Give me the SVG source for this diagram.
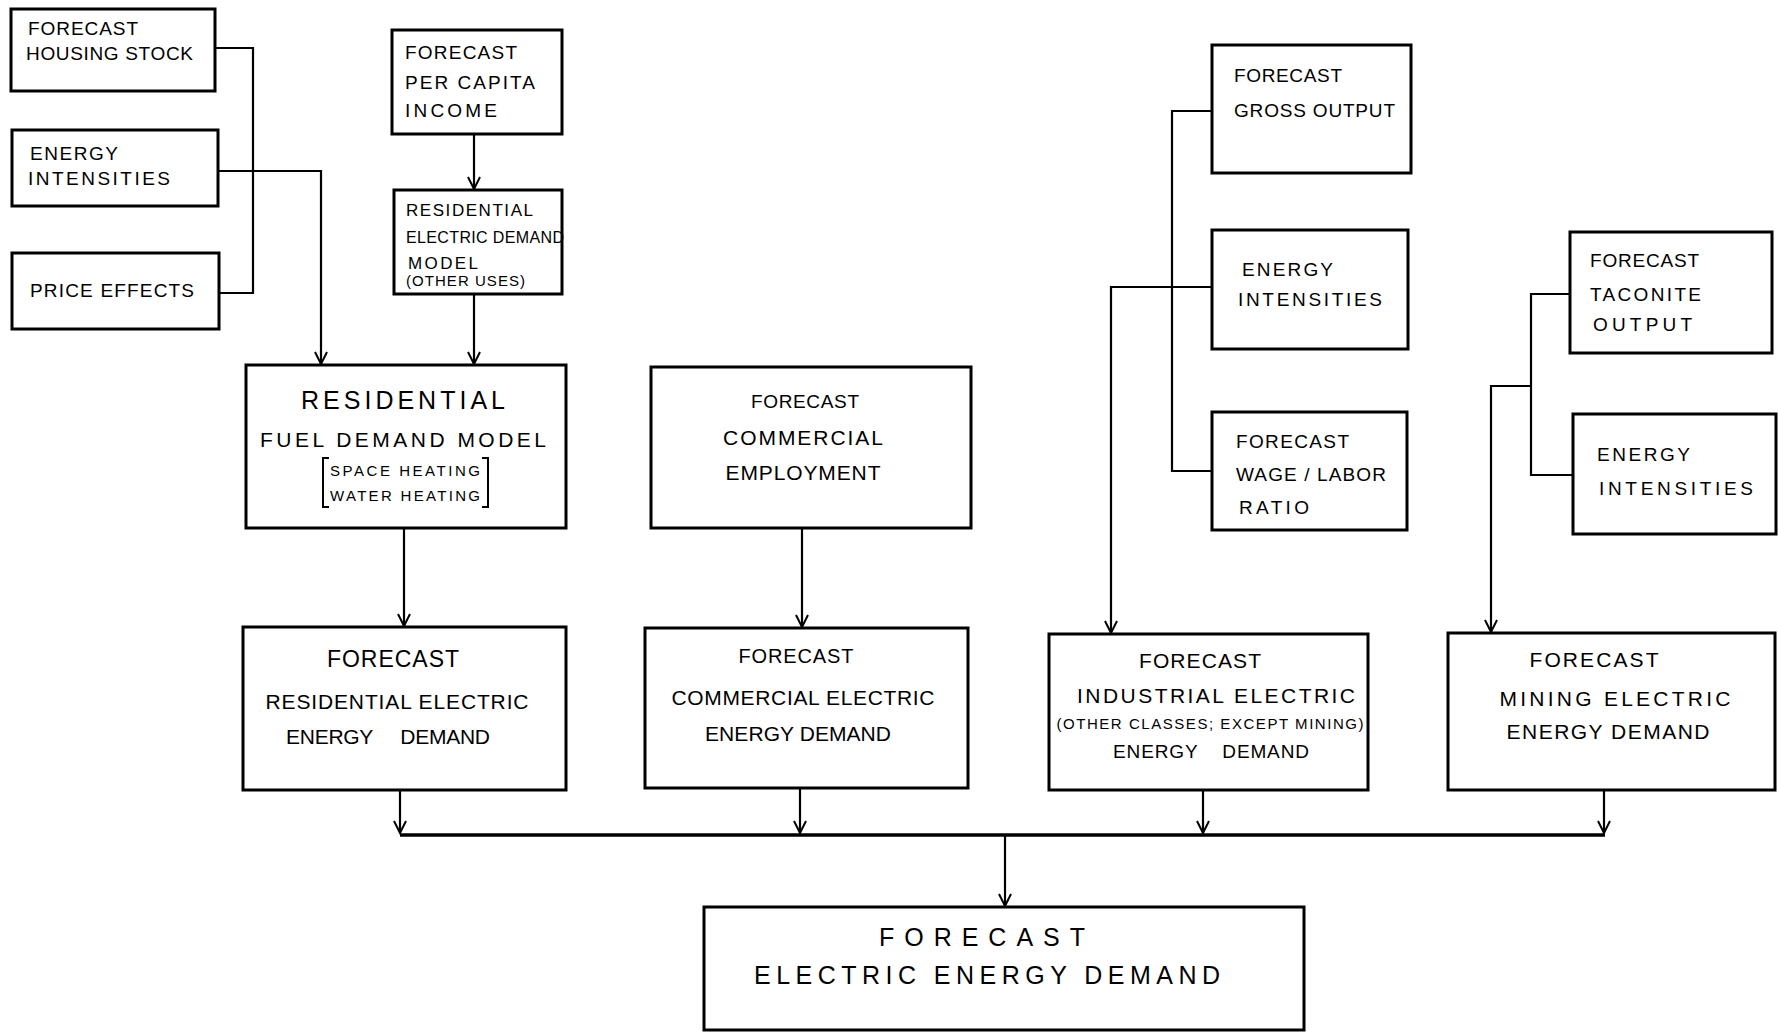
<svg xmlns="http://www.w3.org/2000/svg" width="1778" height="1032" viewBox="0 0 1778 1032">
<defs>
<marker id="v" viewBox="-14 -8 16 16" refX="0" refY="0" markerWidth="16" markerHeight="16" markerUnits="userSpaceOnUse" orient="auto">
<path d="M-12,-6 L0,0 L-12,6" fill="none" stroke="#000" stroke-width="2"/>
</marker>
<style>
.b{fill:#fff;stroke:#000;stroke-width:3}
.c{fill:none;stroke:#000;stroke-width:2.2}
.bus{fill:none;stroke:#000;stroke-width:3.5}
.a{marker-end:url(#v)}
text{font-family:"Liberation Sans",Arial,sans-serif;fill:#000}
.s{font-size:19px}
.m{font-size:21px}
.t{font-size:15px}
.l{font-size:25px}
.mid{text-anchor:middle}
</style>
</defs>
<rect width="1778" height="1032" fill="#fff"/>
<g id="connectors">
<path class="c" d="M215,48 H253 V293 H219"/>
<path class="c a" d="M218,171 H321 V364"/>
<path class="c a" d="M474,134 V189"/>
<path class="c a" d="M474,294 V364"/>
<path class="c a" d="M404,528 V626"/>
<path class="c a" d="M802,528 V627"/>
<path class="c" d="M1212,111 H1172 V471 H1212"/>
<path class="c a" d="M1212,287 H1111 V633"/>
<path class="c" d="M1570,294 H1531 V475 H1572"/>
<path class="c a" d="M1531,386 H1491 V632"/>
<path class="c a" d="M400,790 V833"/>
<path class="c a" d="M800,788 V833"/>
<path class="c a" d="M1203,790 V833"/>
<path class="c a" d="M1604,790 V833"/>
<path class="bus" d="M400,835 H1605"/>
<path class="c a" d="M1005,835 V906"/>
</g>
<g id="housing-stock">
<rect class="b" x="11" y="9" width="204" height="82"/>
<text class="s" x="28" y="35" textLength="110">FORECAST</text>
<text class="s" x="26" y="60" textLength="167">HOUSING STOCK</text>
</g>
<g id="energy-intensities-res">
<rect class="b" x="12" y="130" width="206" height="76"/>
<text class="s" x="30" y="160" textLength="88">ENERGY</text>
<text class="s" x="28" y="185" textLength="142">INTENSITIES</text>
</g>
<g id="price-effects">
<rect class="b" x="12" y="253" width="207" height="76"/>
<text class="s" x="30" y="297" textLength="164">PRICE EFFECTS</text>
</g>
<g id="per-capita-income">
<rect class="b" x="392" y="30" width="170" height="104"/>
<text class="s" x="405" y="59" textLength="112">FORECAST</text>
<text class="s" x="405" y="89" textLength="130">PER CAPITA</text>
<text class="s" x="405" y="117" textLength="92">INCOME</text>
</g>
<g id="res-electric-model">
<rect class="b" x="394" y="190" width="168" height="104"/>
<text x="406" y="216" textLength="127" style="font-size:17px">RESIDENTIAL</text>
<text x="406" y="243" textLength="158" style="font-size:16px">ELECTRIC DEMAND</text>
<text x="408" y="269" textLength="70" style="font-size:17px">MODEL</text>
<text class="t" x="406" y="286" textLength="119">(OTHER USES)</text>
</g>
<g id="res-fuel-model">
<rect class="b" x="246" y="365" width="320" height="163"/>
<text class="l mid" x="403" y="409" textLength="204">RESIDENTIAL</text>
<text class="m mid" x="403" y="447" textLength="286">FUEL DEMAND MODEL</text>
<path class="c" d="M329,458 H323 V507 H329 M482,458 H488 V507 H482" style="stroke-width:2"/>
<text class="t mid" x="405" y="476" textLength="150">SPACE HEATING</text>
<text class="t mid" x="405" y="501" textLength="150">WATER HEATING</text>
</g>
<g id="res-electric-demand">
<rect class="b" x="243" y="627" width="323" height="163"/>
<text class="mid" x="393" y="667" textLength="132" style="font-size:23px">FORECAST</text>
<text class="m mid" x="397" y="709" textLength="263">RESIDENTIAL ELECTRIC</text>
<text class="m mid" x="388" y="744" textLength="204" style="word-spacing:22px">ENERGY DEMAND</text>
</g>
<g id="commercial-employment">
<rect class="b" x="651" y="367" width="320" height="161"/>
<text class="mid" x="805" y="408" textLength="108" style="font-size:19px">FORECAST</text>
<text class="m mid" x="803" y="445" textLength="160">COMMERCIAL</text>
<text class="m mid" x="803" y="480" textLength="155">EMPLOYMENT</text>
</g>
<g id="commercial-electric-demand">
<rect class="b" x="645" y="628" width="323" height="160"/>
<text class="mid" x="796" y="663" textLength="115" style="font-size:20px">FORECAST</text>
<text class="m mid" x="803" y="705" textLength="263">COMMERCIAL ELECTRIC</text>
<text class="m mid" x="798" y="741" textLength="186">ENERGY DEMAND</text>
</g>
<g id="gross-output">
<rect class="b" x="1212" y="45" width="199" height="128"/>
<text class="s" x="1234" y="82" textLength="108">FORECAST</text>
<text class="s" x="1234" y="117" textLength="161">GROSS OUTPUT</text>
</g>
<g id="energy-intensities-ind">
<rect class="b" x="1212" y="230" width="196" height="119"/>
<text class="s" x="1242" y="276" textLength="91">ENERGY</text>
<text class="s" x="1238" y="306" textLength="144">INTENSITIES</text>
</g>
<g id="wage-labor-ratio">
<rect class="b" x="1212" y="412" width="195" height="118"/>
<text class="s" x="1236" y="448" textLength="113">FORECAST</text>
<text class="s" x="1236" y="481" textLength="150">WAGE / LABOR</text>
<text class="s" x="1239" y="514" textLength="70">RATIO</text>
</g>
<g id="industrial-electric-demand">
<rect class="b" x="1049" y="634" width="319" height="156"/>
<text class="m mid" x="1200" y="668" textLength="122">FORECAST</text>
<text class="m mid" x="1216" y="703" textLength="278">INDUSTRIAL ELECTRIC</text>
<text class="t mid" x="1210" y="729" textLength="307">(OTHER CLASSES; EXCEPT MINING)</text>
<text class="mid" x="1211" y="758" textLength="196" style="font-size:19px;word-spacing:18px">ENERGY DEMAND</text>
</g>
<g id="taconite-output">
<rect class="b" x="1570" y="232" width="202" height="121"/>
<text class="s" x="1590" y="267" textLength="109">FORECAST</text>
<text class="s" x="1590" y="301" textLength="111">TACONITE</text>
<text class="s" x="1593" y="331" textLength="99">OUTPUT</text>
</g>
<g id="energy-intensities-mining">
<rect class="b" x="1573" y="414" width="203" height="120"/>
<text class="s" x="1597" y="461" textLength="93">ENERGY</text>
<text class="s" x="1599" y="495" textLength="154">INTENSITIES</text>
</g>
<g id="mining-electric-demand">
<rect class="b" x="1448" y="633" width="327" height="157"/>
<text class="m mid" x="1594" y="667" textLength="129">FORECAST</text>
<text class="m mid" x="1615" y="706" textLength="231">MINING ELECTRIC</text>
<text class="m mid" x="1608" y="739" textLength="203">ENERGY DEMAND</text>
</g>
<g id="electric-energy-demand">
<rect class="b" x="704" y="907" width="600" height="123"/>
<text class="l mid" x="982" y="946" textLength="206">FORECAST</text>
<text class="l mid" x="987" y="984" textLength="466">ELECTRIC ENERGY DEMAND</text>
</g>
</svg>
